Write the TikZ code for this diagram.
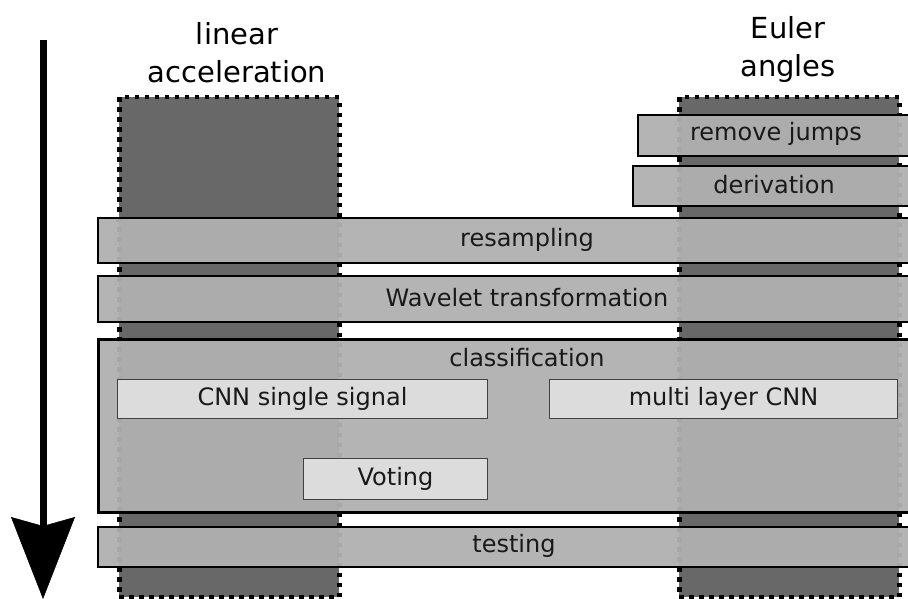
\documentclass[tikz,border=0pt]{standalone}
\usepackage{fontspec}
\setmainfont{DejaVu Sans}
\usetikzlibrary{arrows.meta}
\definecolor{colgray}{HTML}{686868}
\definecolor{bandgray}{HTML}{B0B0B0}
\definecolor{innergray}{HTML}{DCDCDC}
\tikzset{
  colbox/.style={rectangle, fill=colgray, draw=black, line width=4.5pt, dash pattern=on 4.5pt off 5.5pt, inner sep=0pt, anchor=north west},
  band/.style={rectangle, draw=black, line width=1.6pt, fill=bandgray, fill opacity=0.95, inner sep=0pt, anchor=north west},
  bigband/.style={band, line width=3pt},
  innerbox/.style={rectangle, draw=black!75, line width=1pt, fill=innergray, inner sep=0pt, anchor=north west},
  lbl/.style={font=\fontsize{24}{28}\selectfont, text=black!90, inner sep=0pt},
  ttl/.style={font=\fontsize{29}{34}\selectfont, text=black, inner sep=0pt, anchor=base},
}
\begin{document}
\begin{tikzpicture}[x=1pt,y=-1pt]
\useasboundingbox (0,0) rectangle (908,599);
\clip (0,0) rectangle (908,599);
% titles
\node[ttl] (t1) at (237,45) {linear};
\node[ttl] (t2) at (237,83) {acceleration};
\node[ttl] (t3) at (788,39) {Euler};
\node[ttl] (t4) at (788,77) {angles};
% columns
\node[colbox, minimum width=220pt, minimum height=500pt] (colL) at (117,95) {};
\node[colbox, minimum width=220pt, minimum height=500pt] (colR) at (677,95) {};
% bands
\node[band, minimum width=283pt, minimum height=41pt] (rj) at (637,114) {};
\node[band, minimum width=288pt, minimum height=40pt] (der) at (632,165) {};
\node[band, minimum width=863pt, minimum height=45pt] (res) at (97,217) {};
\node[band, minimum width=863pt, minimum height=46pt] (wav) at (97,275) {};
\node[bigband, minimum width=863pt, minimum height=173pt] (cls) at (97,338) {};
\node[band, minimum width=863pt, minimum height=40pt] (tst) at (97,526) {};
% inner boxes
\node[innerbox, minimum width=370pt, minimum height=39pt] (cnn1) at (117,379) {};
\node[innerbox, minimum width=348pt, minimum height=39pt] (cnn2) at (549,379) {};
\node[innerbox, minimum width=184pt, minimum height=41pt] (vot) at (303,458) {};
% labels
\node[lbl] (lrj) at (776,134) {remove jumps};
\node[lbl] (lder) at (774,185) {derivation};
\node[lbl] (lres) at (527,240) {resampling};
\node[lbl] (lwav) at (527,298) {Wavelet transformation};
\node[lbl] (lcls) at (527,358) {classification};
\node[lbl] at (cnn1.center) {CNN single signal};
\node[lbl] at (cnn2.center) {multi layer CNN};
\node[lbl] at (vot.center) {Voting};
\node[lbl] (ltst) at (514,546) {testing};
% arrow
\coordinate (atop) at (43,40);
\coordinate (abot) at (43,599);
\draw[line width=7pt, -{Stealth[length=82pt, width=64pt, inset=9pt, line width=0.5pt]}] (atop) -- (abot);
\end{tikzpicture}
\end{document}
